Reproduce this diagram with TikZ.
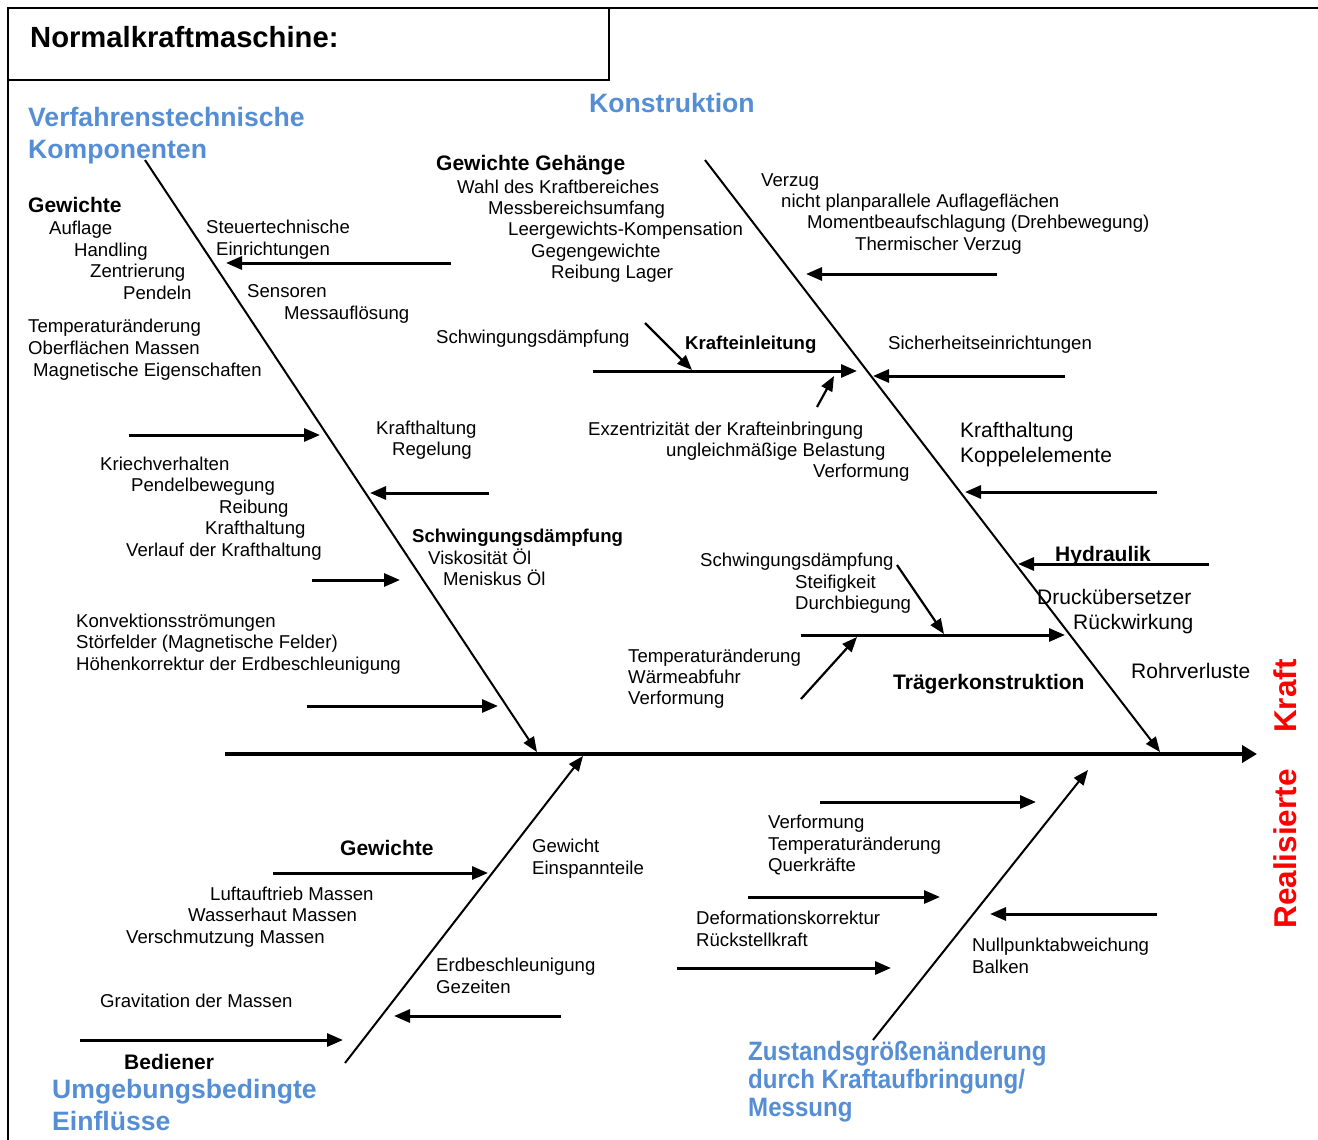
\documentclass[tikz,border=0pt]{standalone}
\usepackage{fontspec}
\setmainfont{Liberation Sans}
\usetikzlibrary{arrows.meta}
\definecolor{headblue}{RGB}{85,142,213}
\definecolor{headred}{RGB}{255,0,0}
\newcommand\myN{\fontsize{18.6}{22}\selectfont}
\newcommand\myL{\fontsize{21}{24}\selectfont}
\newcommand\myB{\bfseries\fontsize{21}{24}\selectfont}
\newcommand\myBs{\bfseries\fontsize{18.6}{22}\selectfont}
\newcommand\myH{\bfseries\fontsize{26.6}{32}\selectfont}
\newcommand\myCond[1]{\scalebox{0.905}[1]{#1}}
\tikzset{
  nt/.style={anchor=base west, inner sep=0pt, font=\myN},
  lt/.style={anchor=base west, inner sep=0pt, font=\myL},
  bt/.style={anchor=base west, inner sep=0pt, font=\myB},
  bst/.style={anchor=base west, inner sep=0pt, font=\myBs},
  ht/.style={anchor=base west, inner sep=0pt, font=\myH, text=headblue},
  rt/.style={anchor=center, inner sep=0pt, rotate=90, font=\bfseries\fontsize{31.5}{36}\selectfont, text=headred},
  frame/.style={line width=2pt},
  spine/.style={line width=4pt, -{Triangle[length=15pt,width=17pt]}},
  bone/.style={line width=2pt, -{Triangle[length=15pt,width=12pt]}},
  sub/.style={line width=3pt, -{Triangle[length=16pt,width=13pt]}},
  subsub/.style={line width=2.2pt, -{Triangle[length=15pt,width=12pt]}},
}
\begin{document}
\begin{tikzpicture}[x=1pt,y=-1pt]
\useasboundingbox (0,0) rectangle (1318,1140);
% frame
\coordinate (f1) at (8,8);
\coordinate (f2) at (1318,8);
\coordinate (f3) at (8,1140);
\coordinate (f4) at (609,80);
\draw[frame] (f3) -- (f1) -- (f2);
\draw[frame] (f1) rectangle (f4);
\node[anchor=base west, inner sep=0pt, font=\bfseries\fontsize{29.2}{34}\selectfont] (title) at (30,48) {Normalkraftmaschine:};

% spine
\coordinate (sp0) at (225,754);
\coordinate (sp1) at (1257,754);
\draw[spine] (sp0) -- (sp1);

% bones
\coordinate (b1s) at (145,160); \coordinate (b1e) at (537,752);
\coordinate (b2s) at (705,160); \coordinate (b2e) at (1160,752);
\coordinate (b3s) at (345,1063); \coordinate (b3e) at (583,756);
\coordinate (b4s) at (873,1040); \coordinate (b4e) at (1088,770);
\draw[bone] (b1s) -- (b1e);
\draw[bone] (b2s) -- (b2e);
\draw[bone] (b3s) -- (b3e);
\draw[bone] (b4s) -- (b4e);

% headings
\node[ht] (h1) at (28,126) {Verfahrenstechnische};
\node[ht] (h1b) at (28,158) {Komponenten};
\node[ht] (h2) at (589,113) {Konstruktion};
\node[ht] (h3) at (52,1098) {Umgebungsbedingte};
\node[ht] (h3b) at (52,1130) {Einflüsse};
\node[ht] (h4) at (748,1060) {\myCond{Zustandsgrößenänderung}};
\node[ht] (h4b) at (748,1088) {\myCond{durch Kraftaufbringung/}};
\node[ht] (h4c) at (748,1116) {\myCond{Messung}};
\node[rt] (r1) at (1285,696) {Kraft};
\node[rt] (r2) at (1285,849) {Realisierte};

% ---------- upper left bone
\coordinate (a1s) at (451,263); \coordinate (a1e) at (226,263);
\coordinate (a2s) at (129,435); \coordinate (a2e) at (320,435);
\coordinate (a3s) at (489,493); \coordinate (a3e) at (370,493);
\coordinate (a4s) at (312,580); \coordinate (a4e) at (400,580);
\coordinate (a5s) at (307,706); \coordinate (a5e) at (498,706);
\draw[sub] (a1s) -- (a1e);
\draw[sub] (a2s) -- (a2e);
\draw[sub] (a3s) -- (a3e);
\draw[sub] (a4s) -- (a4e);
\draw[sub] (a5s) -- (a5e);

\node[bt] (u1) at (28,212) {Gewichte};
\node[nt] (u2) at (49,234) {Auflage};
\node[nt] (u3) at (74,256) {Handling};
\node[nt] (u4) at (90,277) {Zentrierung};
\node[nt] (u5) at (123,299) {Pendeln};
\node[nt] (u6) at (28,332) {Temperaturänderung};
\node[nt] (u7) at (28,354) {Oberflächen Massen};
\node[nt] (u8) at (33,376) {Magnetische Eigenschaften};
\node[nt] (u9) at (206,233) {Steuertechnische};
\node[nt] (u10) at (216,255) {Einrichtungen};
\node[nt] (u11) at (247,297) {Sensoren};
\node[nt] (u12) at (284,319) {Messauflösung};
\node[nt] (u13) at (376,434) {Krafthaltung};
\node[nt] (u14) at (392,455) {Regelung};
\node[nt] (u15) at (100,470) {Kriechverhalten};
\node[nt] (u16) at (131,491) {Pendelbewegung};
\node[nt] (u17) at (219,513) {Reibung};
\node[nt] (u18) at (205,534) {Krafthaltung};
\node[nt] (u19) at (126,556) {Verlauf der Krafthaltung};
\node[bst] (u20) at (412,542) {Schwingungsdämpfung};
\node[nt] (u21) at (428,564) {Viskosität Öl};
\node[nt] (u22) at (443,585) {Meniskus Öl};
\node[nt] (u23) at (76,627) {Konvektionsströmungen};
\node[nt] (u24) at (76,648) {Störfelder (Magnetische Felder)};
\node[nt] (u25) at (76,670) {Höhenkorrektur der Erdbeschleunigung};

% ---------- upper middle / right bone
\node[bt] (m1) at (436,170) {Gewichte Gehänge};
\node[nt] (m2) at (457,193) {Wahl des Kraftbereiches};
\node[nt] (m3) at (488,214) {Messbereichsumfang};
\node[nt] (m4) at (508,235) {Leergewichts-Kompensation};
\node[nt] (m5) at (531,257) {Gegengewichte};
\node[nt] (m6) at (551,278) {Reibung Lager};
\node[nt] (m7) at (436,343) {Schwingungsdämpfung};
\node[bst] (m8) at (685,349) {Krafteinleitung};
\node[nt] (m9) at (588,435) {Exzentrizität der Krafteinbringung};
\node[nt] (m10) at (666,456) {ungleichmäßige Belastung};
\node[nt] (m11) at (813,477) {Verformung};

\node[nt] (k1) at (761,186) {Verzug};
\node[nt] (k2) at (781,207) {nicht planparallele Auflageflächen};
\node[nt] (k3) at (807,228) {Momentbeaufschlagung (Drehbewegung)};
\node[nt] (k4) at (855,250) {Thermischer Verzug};
\node[nt] (k5) at (888,349) {Sicherheitseinrichtungen};
\node[lt] (k6) at (960,437) {Krafthaltung};
\node[lt] (k7) at (960,462) {Koppelelemente};
\node[bt] (k8) at (1055,561) {Hydraulik};
\node[lt] (k9) at (1037,604) {Druckübersetzer};
\node[lt] (k10) at (1073,629) {Rückwirkung};
\node[lt] (k11) at (1131,678) {Rohrverluste};

\node[nt] (t1) at (700,566) {Schwingungsdämpfung};
\node[nt] (t2) at (795,588) {Steifigkeit};
\node[nt] (t3) at (795,609) {Durchbiegung};
\node[nt] (t4) at (628,662) {Temperaturänderung};
\node[nt] (t5) at (628,683) {Wärmeabfuhr};
\node[nt] (t6) at (628,704) {Verformung};
\node[bt] (t7) at (893,689) {Trägerkonstruktion};

\coordinate (c1s) at (997,274); \coordinate (c1e) at (806,274);
\coordinate (c2s) at (593,371); \coordinate (c2e) at (857,371);
\coordinate (c3s) at (1065,376); \coordinate (c3e) at (873,376);
\coordinate (c4s) at (1157,492); \coordinate (c4e) at (965,492);
\coordinate (c5s) at (1209,564); \coordinate (c5e) at (1018,564);
\coordinate (c6s) at (801,635); \coordinate (c6e) at (1065,635);
\draw[sub] (c1s) -- (c1e);
\draw[sub] (c2s) -- (c2e);
\draw[sub] (c3s) -- (c3e);
\draw[sub] (c4s) -- (c4e);
\draw[sub] (c5s) -- (c5e);
\draw[sub] (c6s) -- (c6e);

\coordinate (d1s) at (645,323); \coordinate (d1e) at (692,370);
\coordinate (d2s) at (817,407); \coordinate (d2e) at (834,376);
\coordinate (d3s) at (897,565); \coordinate (d3e) at (944,634);
\coordinate (d4s) at (801,699); \coordinate (d4e) at (857,637);
\draw[subsub] (d1s) -- (d1e);
\draw[subsub] (d2s) -- (d2e);
\draw[subsub] (d3s) -- (d3e);
\draw[subsub] (d4s) -- (d4e);

% ---------- lower left bone
\coordinate (e1s) at (273,873); \coordinate (e1e) at (488,873);
\coordinate (e2s) at (561,1016); \coordinate (e2e) at (394,1016);
\coordinate (e3s) at (80,1040); \coordinate (e3e) at (343,1040);
\draw[sub] (e1s) -- (e1e);
\draw[sub] (e2s) -- (e2e);
\draw[sub] (e3s) -- (e3e);

\node[bt] (l1) at (340,855) {Gewichte};
\node[nt] (l2) at (210,900) {Luftauftrieb Massen};
\node[nt] (l3) at (188,921) {Wasserhaut Massen};
\node[nt] (l4) at (126,943) {Verschmutzung Massen};
\node[nt] (l5) at (100,1007) {Gravitation der Massen};
\node[bt] (l6) at (124,1069) {Bediener};
\node[nt] (l7) at (532,852) {Gewicht};
\node[nt] (l8) at (532,874) {Einspannteile};
\node[nt] (l9) at (436,971) {Erdbeschleunigung};
\node[nt] (l10) at (436,993) {Gezeiten};

% ---------- lower right bone
\coordinate (g1s) at (820,802); \coordinate (g1e) at (1036,802);
\coordinate (g2s) at (748,897); \coordinate (g2e) at (940,897);
\coordinate (g3s) at (677,968); \coordinate (g3e) at (891,968);
\coordinate (g4s) at (1157,914); \coordinate (g4e) at (990,914);
\draw[sub] (g1s) -- (g1e);
\draw[sub] (g2s) -- (g2e);
\draw[sub] (g3s) -- (g3e);
\draw[sub] (g4s) -- (g4e);

\node[nt] (n1) at (768,828) {Verformung};
\node[nt] (n2) at (768,850) {Temperaturänderung};
\node[nt] (n3) at (768,871) {Querkräfte};
\node[nt] (n4) at (696,924) {Deformationskorrektur};
\node[nt] (n5) at (696,946) {Rückstellkraft};
\node[nt] (n6) at (972,951) {Nullpunktabweichung};
\node[nt] (n7) at (972,973) {Balken};
\end{tikzpicture}
\end{document}
